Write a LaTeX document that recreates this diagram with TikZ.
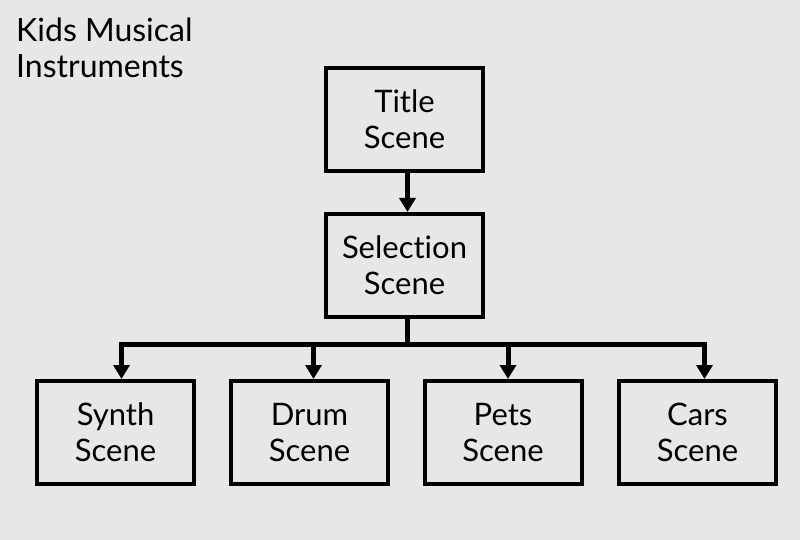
\documentclass[tikz,border=0pt]{standalone}
\usepackage{fontspec}
\setmainfont{Lato}[Ligatures={NoCommon,NoRequired,NoContextual}]
\usetikzlibrary{arrows.meta}
\definecolor{bg}{HTML}{E7E7E7}
\newcommand{\twolines}[2]{\raisebox{4pt}{\parbox{150pt}{\centering #1\\#2}}}
\begin{document}
\begin{tikzpicture}[x=1pt,y=-1pt,
  scenebox/.style={draw=black,line width=4pt,minimum width=157pt,minimum height=103pt,inner sep=0pt,align=center,font=\fontsize{31}{36}\selectfont},
  arr/.style={line width=5pt,-{Triangle[width=16pt,length=14pt]}},
  link/.style={line width=5pt}]
\fill[bg] (0,0) rectangle (800,540);
\useasboundingbox (0,0) rectangle (800,540);
\node[anchor=north west,inner sep=0pt,align=left,font=\fontsize{32}{36}\selectfont] (head) at (16,18) {Kids Musical\\Instruments};
\node[scenebox] (title) at (404.5,119.5) {\twolines{Title}{Scene}};
\node[scenebox] (sel) at (404.5,265.5) {\twolines{Selection}{Scene}};
\node[scenebox] (synth) at (115.5,432.5) {\twolines{Synth}{Scene}};
\node[scenebox] (drum) at (309.5,432.5) {\twolines{Drum}{Scene}};
\node[scenebox] (pets) at (503,432.5) {\twolines{Pets}{Scene}};
\node[scenebox] (cars) at (697.5,432.5) {\twolines{Cars}{Scene}};
\coordinate (bus) at (407.5,344);
\draw[arr] ([xshift=3pt]title.south) -- ([xshift=3pt]sel.north);
\draw[link] ([xshift=3pt]sel.south) -- (bus);
\draw[arr] (bus) -| ([xshift=6pt]synth.north);
\draw[arr] (bus) -| ([xshift=4pt]drum.north);
\draw[arr] (bus) -| ([xshift=5pt]pets.north);
\draw[arr] (bus) -| ([xshift=7pt]cars.north);
\end{tikzpicture}
\end{document}
